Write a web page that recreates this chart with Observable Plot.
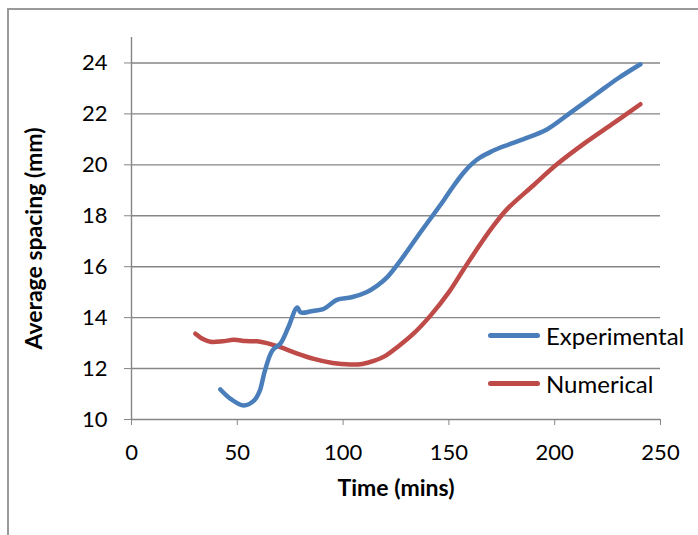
<!DOCTYPE html>
<html><head><meta charset="utf-8">
<script src="https://cdn.jsdelivr.net/npm/d3@7"></script>
<script src="https://cdn.jsdelivr.net/npm/@observablehq/plot@0.6"></script>
<style>
html,body{margin:0;padding:0;background:#fff;overflow:hidden;width:698px;height:535px;}
#wrap{position:relative;width:698px;height:535px;font-family:Lato,"DejaVu Sans",sans-serif;}
#border{position:absolute;left:7px;top:8px;width:800px;height:700px;border:2px solid #999;box-sizing:border-box;}
#chart{position:absolute;left:0;top:0;}
.leg{position:absolute;display:flex;align-items:center;font-size:24px;color:#000;white-space:nowrap;}
.leg span.sw{display:inline-block;width:52px;height:5px;border-radius:3px;margin-right:6px;}
</style></head>
<body><div id="wrap"><div id="border"></div><div id="chart"></div></div>
<script>
const expX = [42,47,53,58,60.5,63,66.5,70.5,74,78.3,80,85,91,97,104,111,116,121,127,137,147.5,152,157,161,165,170,174.4,185,196.5,207.5,220,230,240.5];
const expY = [11.18,10.8,10.55,10.75,11.1,11.9,12.7,13.0,13.6,14.4,14.2,14.25,14.35,14.7,14.8,15.0,15.25,15.6,16.23,17.4,18.6,19.15,19.7,20.05,20.3,20.52,20.68,21.0,21.4,22.05,22.8,23.4,23.95];
const numX = [30.2,34,37.3,43,48.4,54,59.4,64,70.4,78,86.2,95,103.5,109,114.5,120,125.6,133,141.3,150,157,164.9,171,177.5,190,201.2,215,228,240.5];
const numY = [13.37,13.15,13.05,13.07,13.13,13.08,13.07,13.0,12.84,12.6,12.38,12.22,12.16,12.18,12.3,12.5,12.84,13.35,14.08,15.0,15.9,16.89,17.6,18.26,19.2,20.03,20.9,21.65,22.38];
const seriesNames = ["Experimental","Numerical"];
const seriesColors = ["#4a7ebb","#be4b48"];
const xTicks = [0,50,100,150,200,250];
const yTicks = [10,12,14,16,18,20,22,24];
const xLabel = "Time (mins)";
const yLabel = "Average spacing (mm)";

const expData = expX.map((x,i)=>({x, y: expY[i]}));
const numData = numX.map((x,i)=>({x, y: numY[i]}));
const grid = "#868686";

const chart = Plot.plot({
  width: 698, height: 535,
  marginLeft: 131, marginRight: 38, marginTop: 37, marginBottom: 116,
  style: {fontFamily: "Lato, sans-serif", fontSize: "22px", background: "transparent", overflow: "visible"},
  x: {domain: [0,250]},
  y: {domain: [10,25]},
  marks: [
    Plot.gridY(yTicks.slice(1), {stroke: grid, strokeOpacity: 1, strokeWidth: 1.4}),
    Plot.ruleX([0], {y1: 10, y2: 25, stroke: grid, strokeWidth: 1.4}),
    Plot.ruleY([10], {stroke: grid, strokeWidth: 1.4}),
    Plot.axisY({ticks: yTicks, tickSize: 7, tickPadding: 17, stroke: grid, fill: "#000", label: null, fontSize: 22}),
    Plot.axisX({ticks: xTicks, tickSize: 6, tickPadding: 19, stroke: grid, fill: "#000", label: null, fontSize: 22}),
    Plot.text([xLabel], {frameAnchor: "bottom", dy: 76, fontWeight: "bold", fontSize: 23, fill: "#000"}),
    Plot.text([yLabel], {frameAnchor: "left", textAnchor: "middle", dx: -97, dy: 10, rotate: -90, fontWeight: "bold", fontSize: 23, fill: "#000"}),
    Plot.line(numData, {x: "x", y: "y", stroke: seriesColors[1], strokeWidth: 4.5, curve: "catmull-rom"}),
    Plot.line(expData, {x: "x", y: "y", stroke: seriesColors[0], strokeWidth: 4.5, curve: "catmull-rom"})
  ]
});
document.getElementById("chart").appendChild(chart);

const wrap = document.getElementById("wrap");
const legTops = [321, 369];
seriesNames.forEach((n,i)=>{
  const d = document.createElement("div");
  d.className = "leg";
  d.style.left = "488px"; d.style.top = legTops[i] + "px"; d.style.height = "28px";
  d.innerHTML = `<span class="sw" style="background:${seriesColors[i]}"></span>${n}`;
  wrap.appendChild(d);
});
</script></body></html>
